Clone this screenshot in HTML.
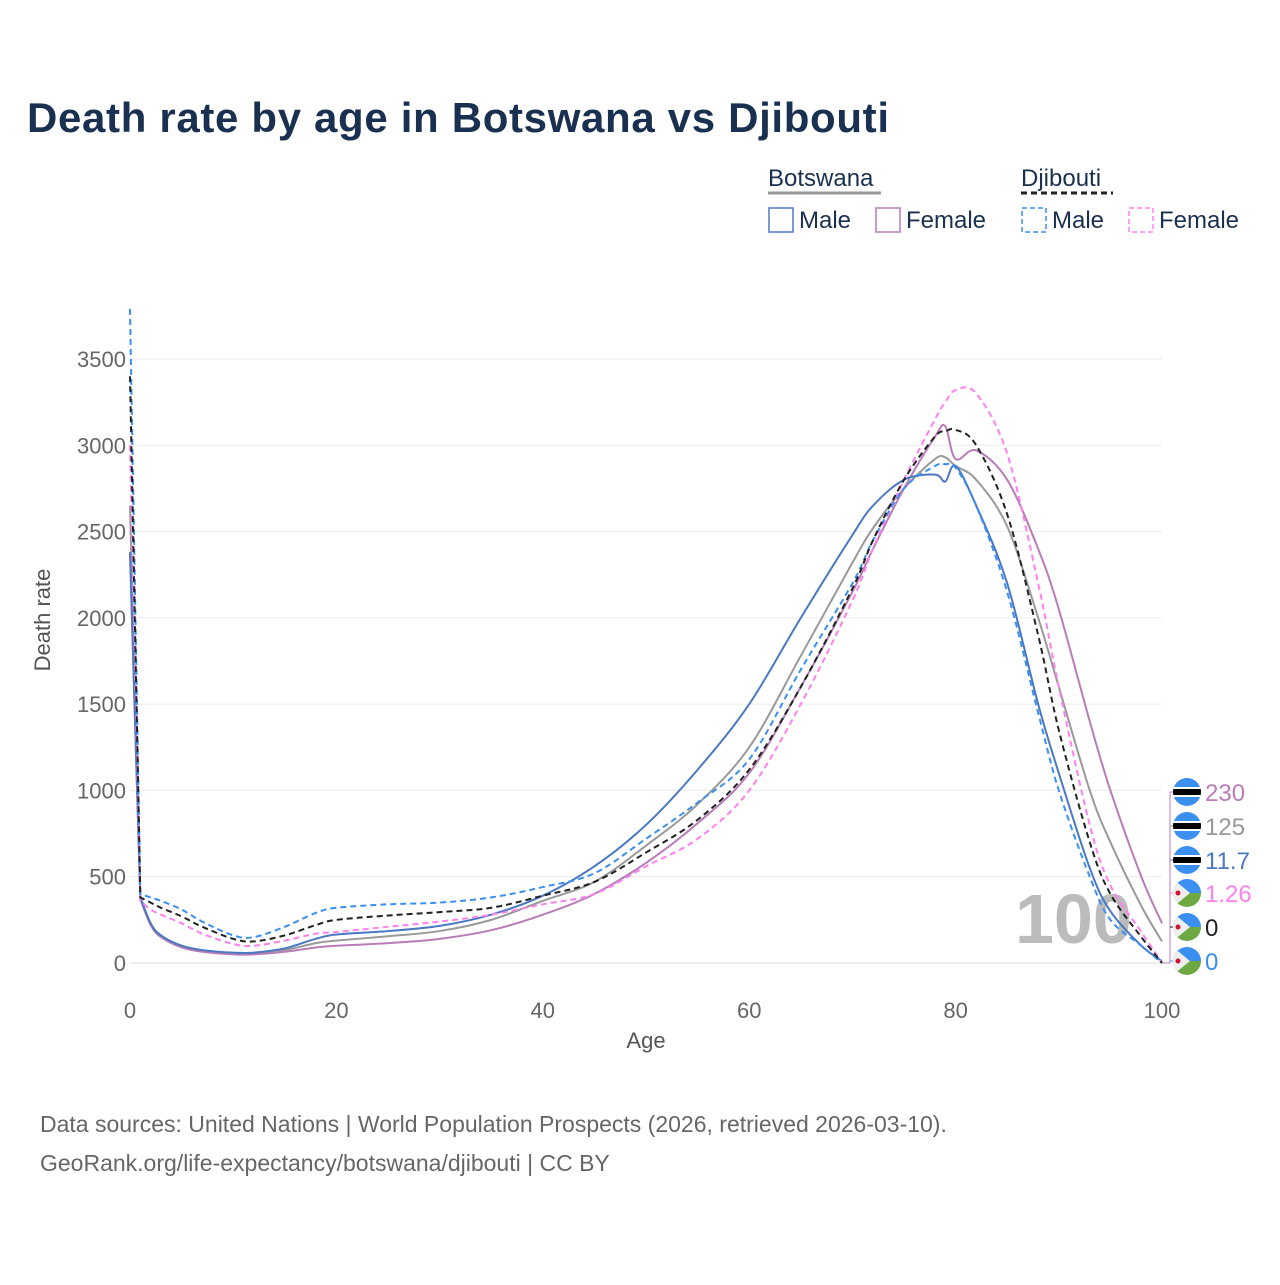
<!DOCTYPE html>
<html><head><meta charset="utf-8"><style>
body{margin:0;background:#fff;font-family:"Liberation Sans",sans-serif}
svg text{font-family:"Liberation Sans",sans-serif}
</style></head><body>
<svg id="chart" width="1280" height="1280" viewBox="0 0 1280 1280" xmlns="http://www.w3.org/2000/svg">
<defs id="defs"></defs>
<text x="27" y="132" font-size="42" font-weight="bold" fill="#1a3050" textLength="862">Death rate by age in Botswana vs Djibouti</text>
<g>
<text x="768" y="186" font-size="24" fill="#1a3050">Botswana</text>
<line x1="768" y1="193" x2="881" y2="193" stroke="#999" stroke-width="3"/>
<text x="1021" y="186" font-size="24" fill="#1a3050">Djibouti</text>
<line x1="1021" y1="193" x2="1113" y2="193" stroke="#222" stroke-width="3" stroke-dasharray="6,4"/>
<rect x="769" y="208" width="24" height="24" fill="none" stroke="#4a78c2" stroke-width="1.5"/>
<text x="799" y="228" font-size="24" fill="#1a3050">Male</text>
<rect x="876" y="208" width="24" height="24" fill="none" stroke="#b87cb8" stroke-width="1.5"/>
<text x="906" y="228" font-size="24" fill="#1a3050">Female</text>
<rect x="1022" y="208" width="24" height="24" fill="none" stroke="#3a8ff0" stroke-width="1.5" stroke-dasharray="5,3"/>
<text x="1052" y="228" font-size="24" fill="#1a3050">Male</text>
<rect x="1129" y="208" width="24" height="24" fill="none" stroke="#ff80ee" stroke-width="1.5" stroke-dasharray="5,3"/>
<text x="1159" y="228" font-size="24" fill="#1a3050">Female</text>
</g>
<g id="grid"></g>
<text x="1015" y="943" font-size="70" font-weight="bold" fill="#bbb">100</text>
<g id="series"></g>
<g id="axes"></g>
<g id="endlabels"></g>
<text x="50" y="620" font-size="22" fill="#555" transform="rotate(-90 50 620)" text-anchor="middle">Death rate</text>
<text x="646" y="1048" font-size="22" fill="#555" text-anchor="middle">Age</text>
<text x="40" y="1132" font-size="23" fill="#666">Data sources: United Nations | World Population Prospects (2026, retrieved 2026-03-10).</text>
<text x="40" y="1171" font-size="23" fill="#666">GeoRank.org/life-expectancy/botswana/djibouti | CC BY</text>
</svg>
<script>
const ages=[0,1,2,3,5,7,10,12,15,18,20,25,30,35,40,45,50,55,60,65,70,72,75,78,79,80,82,85,88,90,93,95,98,100];
const bwMale=[2380,380,230,160,100,75,60,60,85,140,165,185,215,280,390,560,800,1120,1500,2000,2480,2650,2800,2830,2790,2880,2650,2200,1500,1100,550,300,100,11.7];
const bwTotal=[2650,380,230,160,100,72,58,58,75,115,130,155,185,250,360,470,680,920,1250,1780,2320,2520,2750,2920,2930,2880,2800,2530,2000,1600,1000,700,330,125];
const bwFemale=[2380,370,220,150,90,65,50,50,65,90,100,115,140,190,280,400,580,810,1100,1600,2150,2400,2750,3050,3110,2920,2970,2800,2400,2050,1400,1000,500,230];
const djMale=[3790,400,380,360,310,240,160,150,210,290,320,340,350,380,440,520,720,930,1180,1700,2200,2450,2750,2880,2890,2870,2650,2150,1450,1000,500,250,100,0];
const djTotal=[3400,380,350,320,270,210,140,125,160,220,250,275,295,320,390,470,640,830,1120,1600,2170,2450,2800,3050,3080,3090,3000,2600,1900,1350,700,400,150,0];
const djFemale=[3000,360,310,280,230,170,110,100,130,170,180,210,240,280,340,400,560,720,1000,1500,2100,2400,2800,3150,3250,3320,3300,2950,2200,1600,800,450,180,1.26];
const yTicks=[0,500,1000,1500,2000,2500,3000,3500];
const xTicks=[0,20,40,60,80,100];
const endLabels=["230","125","11.7","1.26","0","0"];
const NS="http://www.w3.org/2000/svg";
const X=a=>130+a*10.32, Y=v=>963-v*604/3500;
function mk(t,at,p){const e=document.createElementNS(NS,t);for(const k in at)e.setAttribute(k,at[k]);p.appendChild(e);return e;}
const grid=document.getElementById('grid'),axes=document.getElementById('axes'),defs=document.getElementById('defs');
yTicks.forEach(v=>{
 const l=mk('line',{x1:130,x2:1162,y1:Y(v),y2:Y(v),stroke:v===0?'#ddd':'#ebebeb','stroke-width':1},grid);
 
 
 const t=mk('text',{x:126,y:Y(v)+8,'font-size':22,fill:'#666','text-anchor':'end'},axes);t.textContent=v;
 
 
});
xTicks.forEach(v=>{
 const t=mk('text',{x:X(v),y:1018,'font-size':22,fill:'#666','text-anchor':'middle'},axes);t.textContent=v;
 
 
});
function path(vals){
 const p=ages.map((a,i)=>[X(a),Y(vals[i])]);
 let d=`M${p[0][0]},${p[0][1]}L${p[1][0]},${p[1][1]}`;
 for(let i=1;i<p.length-1;i++){
  const p0=p[Math.max(1,i-1)],p1=p[i],p2=p[i+1],p3=p[Math.min(p.length-1,i+2)];
  const c1=[p1[0]+(p2[0]-p0[0])/6,p1[1]+(p2[1]-p0[1])/6],c2=[p2[0]-(p3[0]-p1[0])/6,p2[1]-(p3[1]-p1[1])/6];
  d+=`C${c1[0]},${c1[1]} ${c2[0]},${c2[1]} ${p2[0]},${p2[1]}`;
 }
 return d;
}
const sg=document.getElementById('series');
const ser=[[bwTotal,'#999',null,'series-botswana-total'],[bwFemale,'#b87cb8',null,'series-botswana-female'],[bwMale,'#4a78c2',null,'series-botswana-male'],
[djFemale,'#ff80ee','6,4','series-djibouti-female'],[djMale,'#3a8ff0','6,4','series-djibouti-male'],[djTotal,'#222','6,4','series-djibouti-total']];
ser.forEach(s=>{
 const at={d:path(s[0]),fill:'none',stroke:s[1],'stroke-width':2};if(s[2])at['stroke-dasharray']=s[2];
 const e=mk('path',at,sg);
 
 
});
const eg=document.getElementById('endlabels');
const lc=['#b87cb8','#999','#4a78c2','#ff80ee','#222','#3a8ff0'];
const ys=[792,826,860,893,927,961];
mk('path',{d:'M1162,963 L1170,963 L1170,792 L1176,792',fill:'none',stroke:'#b87cb8','stroke-width':1},eg);
ys.forEach((y,i)=>{
 mk('line',{x1:1170,x2:1176,y1:y,y2:y,stroke:lc[i]},eg);
 const cp=mk('clipPath',{id:'fc'+i},defs);
 mk('circle',{cx:1187,cy:y,r:14},cp);
 const g=mk('g',{'clip-path':`url(#fc${i})`},eg);
 
 
 if(i<3){
  mk('rect',{x:1173,y:y-14,width:28,height:28,fill:'#3a8ff0'},g);
  mk('rect',{x:1173,y:y-5,width:28,height:10,fill:'#fff'},g);
  mk('rect',{x:1173,y:y-3,width:28,height:6,fill:'#000'},g);
 } else {
  mk('rect',{x:1173,y:y,width:28,height:14,fill:'#6ea843'},g);
  mk('rect',{x:1173,y:y-14,width:28,height:14,fill:'#3a8ff0'},g);
  mk('path',{d:`M1173,${y-14} L1190,${y} L1173,${y+14}Z`,fill:'#eee'},g);
  mk('circle',{cx:1178,cy:y,r:2.5,fill:'#d2102f'},g);
 }
 const t=mk('text',{x:1205,y:y+9,'font-size':24,fill:lc[i]},eg);t.textContent=endLabels[i];
 
 
});
</script>
</body></html>
